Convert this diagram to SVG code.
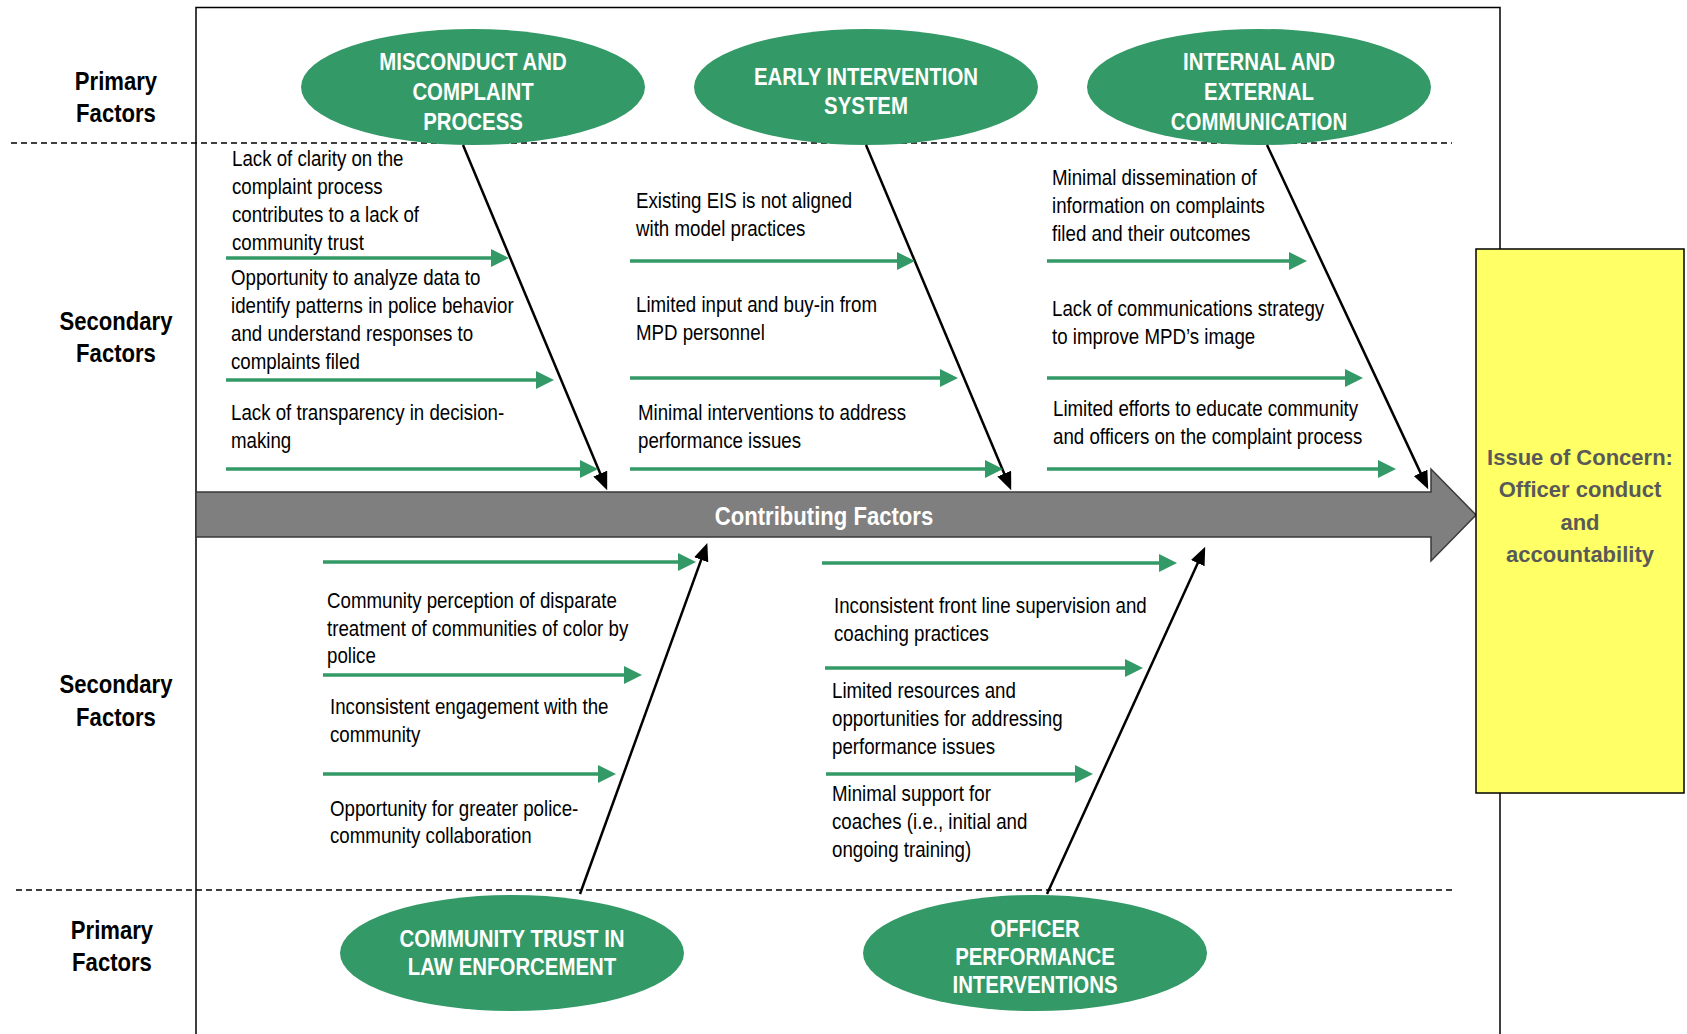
<svg xmlns="http://www.w3.org/2000/svg" width="1687" height="1034" viewBox="0 0 1687 1034">
<style>
  .frame{fill:none;stroke:#000;stroke-width:1.5}
  .dash{stroke:#000;stroke-width:1.5;stroke-dasharray:6 4;fill:none}
  .ell{fill:#339966}
  .etxt{font-family:"Liberation Sans",Arial,sans-serif;font-weight:bold;font-size:24px;fill:#fff;text-anchor:middle}
  .lbl{font-family:"Liberation Sans",Arial,sans-serif;font-weight:bold;font-size:26px;fill:#000;text-anchor:middle}
  .txt{font-family:"Liberation Sans",Arial,sans-serif;font-size:22px;fill:#000}
  .spn{font-family:"Liberation Sans",Arial,sans-serif;font-weight:bold;font-size:26px;fill:#fff;text-anchor:middle}
  .bone{stroke:#000;stroke-width:2.5;fill:none;marker-end:url(#blk)}
  .rib{stroke:#339966;stroke-width:3.5;fill:none;marker-end:url(#grn)}
  .issue{font-family:"Liberation Sans",Arial,sans-serif;font-weight:bold;font-size:22px;fill:#595959;text-anchor:middle}
</style>
<defs>
  <marker id="blk" markerUnits="userSpaceOnUse" markerWidth="18" markerHeight="15" refX="10" refY="7.5" orient="auto">
    <path d="M0,0 L18,7.5 L0,15 z" fill="#000"/>
  </marker>
  <marker id="grn" markerUnits="userSpaceOnUse" markerWidth="18" markerHeight="18" refX="8" refY="9" orient="auto">
    <path d="M0,0 L18,9 L0,18 z" fill="#339966"/>
  </marker>
</defs>
<rect width="1687" height="1034" fill="#fff"/>

<g id="frame">
  <path class="frame" d="M196,1040 L196,7.5 L1500,7.5 L1500,1040"/>
  <line class="dash" x1="11" y1="143" x2="1452" y2="143"/>
  <line class="dash" x1="16" y1="890" x2="1452" y2="890"/>
</g>

<g id="row-labels">
  <text class="lbl" x="0" y="90" transform="matrix(.85,0,0,1,116,0)">Primary</text>
  <text class="lbl" x="0" y="122" transform="matrix(.85,0,0,1,116,0)">Factors</text>
  <text class="lbl" x="0" y="330" transform="matrix(.85,0,0,1,116,0)">Secondary</text>
  <text class="lbl" x="0" y="362" transform="matrix(.85,0,0,1,116,0)">Factors</text>
  <text class="lbl" x="0" y="693" transform="matrix(.85,0,0,1,116,0)">Secondary</text>
  <text class="lbl" x="0" y="726" transform="matrix(.85,0,0,1,116,0)">Factors</text>
  <text class="lbl" x="0" y="939" transform="matrix(.85,0,0,1,112,0)">Primary</text>
  <text class="lbl" x="0" y="971" transform="matrix(.85,0,0,1,112,0)">Factors</text>
</g>

<g id="spine">
  <polygon points="196,492 1431,492 1431,469 1476,515 1431,561 1431,537 196,537" fill="#7f7f7f" stroke="#3a3a3a" stroke-width="1.5"/>
  <text class="spn" x="0" y="525" transform="matrix(.85,0,0,1,824,0)">Contributing Factors</text>
</g>

<g id="issue">
  <rect x="1476" y="249" width="208" height="544" fill="#ffff66" stroke="#000" stroke-width="1.5"/>
  <text class="issue" x="1580" y="465">Issue of Concern:</text>
  <text class="issue" x="1580" y="497">Officer conduct</text>
  <text class="issue" x="1580" y="530">and</text>
  <text class="issue" x="1580" y="562">accountability</text>
</g>

<g id="misconduct">
  <ellipse class="ell" cx="473" cy="87" rx="172" ry="58"/>
  <text class="etxt" x="0" y="70" transform="matrix(.85,0,0,1,473,0)">MISCONDUCT AND</text>
  <text class="etxt" x="0" y="100" transform="matrix(.85,0,0,1,473,0)">COMPLAINT</text>
  <text class="etxt" x="0" y="130" transform="matrix(.85,0,0,1,473,0)">PROCESS</text>
</g>
<g id="early-intervention">
  <ellipse class="ell" cx="866" cy="87" rx="172" ry="58"/>
  <text class="etxt" x="0" y="85.5" transform="matrix(.85,0,0,1,866,0)">EARLY INTERVENTION</text>
  <text class="etxt" x="0" y="114.5" transform="matrix(.85,0,0,1,866,0)">SYSTEM</text>
</g>
<g id="communication">
  <ellipse class="ell" cx="1259" cy="87" rx="172" ry="58"/>
  <text class="etxt" x="0" y="70" transform="matrix(.85,0,0,1,1259,0)">INTERNAL AND</text>
  <text class="etxt" x="0" y="100" transform="matrix(.85,0,0,1,1259,0)">EXTERNAL</text>
  <text class="etxt" x="0" y="130" transform="matrix(.85,0,0,1,1259,0)">COMMUNICATION</text>
</g>
<g id="community-trust">
  <ellipse class="ell" cx="512" cy="953" rx="172" ry="58"/>
  <text class="etxt" x="0" y="947" transform="matrix(.85,0,0,1,512,0)">COMMUNITY TRUST IN</text>
  <text class="etxt" x="0" y="975" transform="matrix(.85,0,0,1,512,0)">LAW ENFORCEMENT</text>
</g>
<g id="officer-performance">
  <ellipse class="ell" cx="1035" cy="953" rx="172" ry="58"/>
  <text class="etxt" x="0" y="937" transform="matrix(.85,0,0,1,1035,0)">OFFICER</text>
  <text class="etxt" x="0" y="965" transform="matrix(.85,0,0,1,1035,0)">PERFORMANCE</text>
  <text class="etxt" x="0" y="993" transform="matrix(.85,0,0,1,1035,0)">INTERVENTIONS</text>
</g>

<g id="connectors">
  <line class="bone" x1="463" y1="145" x2="604.1" y2="482.8"/>
  <line class="bone" x1="866" y1="145" x2="1008.1" y2="482.8"/>
  <line class="bone" x1="1267" y1="145" x2="1424.8" y2="481.9"/>
  <line class="bone" x1="580" y1="894" x2="704.6" y2="550.4"/>
  <line class="bone" x1="1047" y1="894" x2="1201.9" y2="554.1"/>

  <line class="rib" x1="226" y1="258" x2="499" y2="258"/>
  <line class="rib" x1="226" y1="380" x2="544" y2="380"/>
  <line class="rib" x1="226" y1="469" x2="588" y2="469"/>
  <line class="rib" x1="630" y1="261" x2="905" y2="261"/>
  <line class="rib" x1="630" y1="378" x2="948" y2="378"/>
  <line class="rib" x1="630" y1="469" x2="993" y2="469"/>
  <line class="rib" x1="1047" y1="261" x2="1297" y2="261"/>
  <line class="rib" x1="1047" y1="378" x2="1353" y2="378"/>
  <line class="rib" x1="1047" y1="469" x2="1386" y2="469"/>
  <line class="rib" x1="323" y1="562" x2="686" y2="562"/>
  <line class="rib" x1="323" y1="675" x2="632" y2="675"/>
  <line class="rib" x1="323" y1="774" x2="606" y2="774"/>
  <line class="rib" x1="822" y1="563" x2="1167" y2="563"/>
  <line class="rib" x1="825" y1="668" x2="1133" y2="668"/>
  <line class="rib" x1="826" y1="774" x2="1083" y2="774"/>
</g>

<g id="factors-misconduct">
  <text class="txt" x="0" y="166" transform="matrix(.85,0,0,1,232,0)">Lack of clarity on the</text>
  <text class="txt" x="0" y="194" transform="matrix(.85,0,0,1,232,0)">complaint process</text>
  <text class="txt" x="0" y="222" transform="matrix(.85,0,0,1,232,0)">contributes to a lack of</text>
  <text class="txt" x="0" y="250" transform="matrix(.85,0,0,1,232,0)">community trust</text>
  <text class="txt" x="0" y="285" transform="matrix(.85,0,0,1,231,0)">Opportunity to analyze data to</text>
  <text class="txt" x="0" y="313" transform="matrix(.85,0,0,1,231,0)">identify patterns in police behavior</text>
  <text class="txt" x="0" y="341" transform="matrix(.85,0,0,1,231,0)">and understand responses to</text>
  <text class="txt" x="0" y="369" transform="matrix(.85,0,0,1,231,0)">complaints filed</text>
  <text class="txt" x="0" y="420" transform="matrix(.85,0,0,1,231,0)">Lack of transparency in decision-</text>
  <text class="txt" x="0" y="448" transform="matrix(.85,0,0,1,231,0)">making</text>
</g>
<g id="factors-eis">
  <text class="txt" x="0" y="208" transform="matrix(.85,0,0,1,636,0)">Existing EIS is not aligned</text>
  <text class="txt" x="0" y="236" transform="matrix(.85,0,0,1,636,0)">with model practices</text>
  <text class="txt" x="0" y="312" transform="matrix(.85,0,0,1,636,0)">Limited input and buy-in from</text>
  <text class="txt" x="0" y="340" transform="matrix(.85,0,0,1,636,0)">MPD personnel</text>
  <text class="txt" x="0" y="420" transform="matrix(.85,0,0,1,638,0)">Minimal interventions to address</text>
  <text class="txt" x="0" y="448" transform="matrix(.85,0,0,1,638,0)">performance issues</text>
</g>
<g id="factors-communication">
  <text class="txt" x="0" y="185" transform="matrix(.85,0,0,1,1052,0)">Minimal dissemination of</text>
  <text class="txt" x="0" y="213" transform="matrix(.85,0,0,1,1052,0)">information on complaints</text>
  <text class="txt" x="0" y="241" transform="matrix(.85,0,0,1,1052,0)">filed and their outcomes</text>
  <text class="txt" x="0" y="316" transform="matrix(.85,0,0,1,1052,0)">Lack of communications strategy</text>
  <text class="txt" x="0" y="344" transform="matrix(.85,0,0,1,1052,0)">to improve MPD’s image</text>
  <text class="txt" x="0" y="416" transform="matrix(.85,0,0,1,1053,0)">Limited efforts to educate community</text>
  <text class="txt" x="0" y="444" transform="matrix(.85,0,0,1,1053,0)">and officers on the complaint process</text>
</g>
<g id="factors-community">
  <text class="txt" x="0" y="608" transform="matrix(.85,0,0,1,327,0)">Community perception of disparate</text>
  <text class="txt" x="0" y="636" transform="matrix(.85,0,0,1,327,0)">treatment of communities of color by</text>
  <text class="txt" x="0" y="663" transform="matrix(.85,0,0,1,327,0)">police</text>
  <text class="txt" x="0" y="714" transform="matrix(.85,0,0,1,330,0)">Inconsistent engagement with the</text>
  <text class="txt" x="0" y="742" transform="matrix(.85,0,0,1,330,0)">community</text>
  <text class="txt" x="0" y="816" transform="matrix(.85,0,0,1,330,0)">Opportunity for greater police-</text>
  <text class="txt" x="0" y="843" transform="matrix(.85,0,0,1,330,0)">community collaboration</text>
</g>
<g id="factors-performance">
  <text class="txt" x="0" y="613" transform="matrix(.85,0,0,1,834,0)">Inconsistent front line supervision and</text>
  <text class="txt" x="0" y="641" transform="matrix(.85,0,0,1,834,0)">coaching practices</text>
  <text class="txt" x="0" y="698" transform="matrix(.85,0,0,1,832,0)">Limited resources and</text>
  <text class="txt" x="0" y="726" transform="matrix(.85,0,0,1,832,0)">opportunities for addressing</text>
  <text class="txt" x="0" y="754" transform="matrix(.85,0,0,1,832,0)">performance issues</text>
  <text class="txt" x="0" y="801" transform="matrix(.85,0,0,1,832,0)">Minimal support for</text>
  <text class="txt" x="0" y="829" transform="matrix(.85,0,0,1,832,0)">coaches (i.e., initial and</text>
  <text class="txt" x="0" y="857" transform="matrix(.85,0,0,1,832,0)">ongoing training)</text>
</g>
</svg>
